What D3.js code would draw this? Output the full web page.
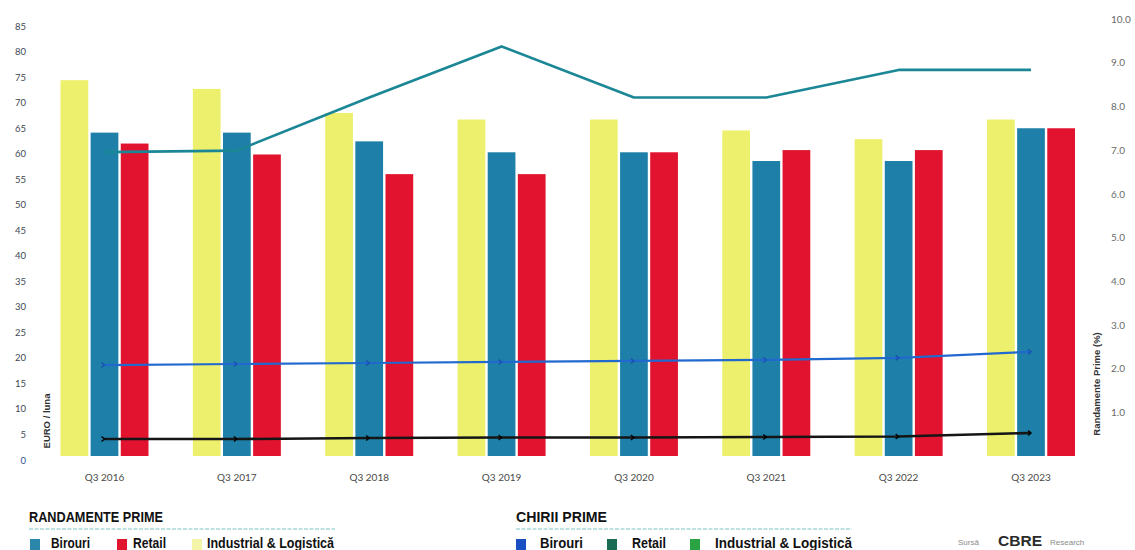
<!DOCTYPE html>
<html>
<head>
<meta charset="utf-8">
<script src="https://cdn.jsdelivr.net/npm/d3@7/dist/d3.min.js"></script>
<style>
  html, body { margin: 0; padding: 0; background: #ffffff; }
  svg { display: block; }
</style>
</head>
<body>
<svg id="chart" width="1135" height="550"></svg>
<script>
// ---------- DATA ----------
const categories = ["Q3 2016", "Q3 2017", "Q3 2018", "Q3 2019", "Q3 2020", "Q3 2021", "Q3 2022", "Q3 2023"];

// Randamente prime (%) – bars, right axis
const yieldSeries = ["Industrial & Logistică", "Birouri", "Retail"];
const yieldIndustrial = [8.6, 8.4, 7.85, 7.7, 7.7, 7.45, 7.25, 7.7];
const yieldOffice     = [7.4, 7.4, 7.2, 6.95, 6.95, 6.75, 6.75, 7.5];
const yieldRetail     = [7.15, 6.9, 6.45, 6.45, 6.95, 7.0, 7.0, 7.5];

// Chirii prime (EURO / luna) – lines, left axis
const rentRetail     = [60.3, 60.6, 71, 81, 71, 71, 76.4, 76.4];
const rentOffice     = [18.6, 18.8, 19, 19.2, 19.4, 19.6, 20, 21.2];
const rentIndustrial = [4.1, 4.1, 4.3, 4.4, 4.4, 4.5, 4.6, 5.3];

const leftTicks  = [0, 5, 10, 15, 20, 25, 30, 35, 40, 45, 50, 55, 60, 65, 70, 75, 80, 85];
const rightTicks = [1, 2, 3, 4, 5, 6, 7, 8, 9, 10];

// ---------- CHART ----------
const svg = d3.select("#chart");
svg.append("rect").attr("width", 1135).attr("height", 550).attr("fill", "#fff");

const xCenter = d3.scalePoint().domain(categories).range([104.5, 1031]);
const xInner = d3.scaleBand().domain(yieldSeries).range([-44, 44]).paddingInner(0.08);
const yLeft = d3.scaleLinear().domain([0, 85]).range([460, 26]);
const yRight = d3.scaleLinear().domain([0, 10]).range([456, 19]);

const barColors = {"Industrial & Logistică": "#edf06c", "Birouri": "#1e80a8", "Retail": "#e1132f"};
const barData = [];
categories.forEach((c, i) => {
  barData.push({cat: c, s: "Industrial & Logistică", v: yieldIndustrial[i]});
  barData.push({cat: c, s: "Birouri", v: yieldOffice[i]});
  barData.push({cat: c, s: "Retail", v: yieldRetail[i]});
});

// Left axis
const gL = svg.append("g").attr("transform", "translate(26,0)")
  .call(d3.axisLeft(yLeft).tickValues(leftTicks).tickSize(0).tickPadding(0));
gL.select(".domain").remove();
gL.selectAll("text").attr("font-family", "Lato, 'Liberation Sans', sans-serif")
  .attr("font-size", 9.5).attr("fill", "#3e4852");
gL.selectAll(".tick").filter(d => d === 0).select("text").attr("fill", "#2f5592");

// Right axis
const gR = svg.append("g").attr("transform", "translate(1111,0)")
  .call(d3.axisRight(yRight).tickValues(rightTicks).tickSize(0).tickPadding(0).tickFormat(d3.format(".1f")));
gR.select(".domain").remove();
gR.selectAll("text").attr("font-family", "Lato, 'Liberation Sans', sans-serif")
  .attr("font-size", 10).attr("fill", "#6a6a6a");

// Bars
svg.append("g").selectAll("rect.bar").data(barData).join("rect")
  .attr("class", "bar")
  .attr("x", d => xCenter(d.cat) + xInner(d.s))
  .attr("width", xInner.bandwidth())
  .attr("y", d => yRight(d.v))
  .attr("height", d => yRight(0) - yRight(d.v))
  .attr("fill", d => barColors[d.s]);

// Lines
const lineGen = d3.line().x((d, i) => xCenter(categories[i])).y(d => yLeft(d));
const lineDefs = [
  {vals: rentRetail, color: "#1b8796", w: 2.6},
  {vals: rentOffice, color: "#2168cf", w: 2.2},
  {vals: rentIndustrial, color: "#151515", w: 2.6}
];
const gLines = svg.append("g");
lineDefs.forEach(l => {
  gLines.append("path").datum(l.vals)
    .attr("d", lineGen).attr("fill", "none")
    .attr("stroke", l.color).attr("stroke-width", l.w)
    .attr("stroke-linejoin", "round");
});
// small markers on lower lines
[rentOffice, rentIndustrial].forEach((vals, k) => {
  gLines.selectAll(null).data(vals).join("path")
    .attr("transform", (d, i) => `translate(${xCenter(categories[i])},${yLeft(d)})`)
    .attr("d", "M-3,-2.5L0,0L-3,2.5")
    .attr("fill", "none")
    .attr("stroke", k === 0 ? "#1a4fb0" : "#000")
    .attr("stroke-width", 1.4);
});

// X labels
svg.append("g").selectAll("text").data(categories).join("text")
  .attr("x", d => xCenter(d)).attr("y", 481)
  .attr("text-anchor", "middle")
  .attr("font-family", "Lato, 'Liberation Sans', sans-serif")
  .attr("font-size", 10).attr("fill", "#4a4a4a")
  .text(d => d);

// Axis titles
svg.append("text").attr("transform", "translate(50,421) rotate(-90)")
  .attr("text-anchor", "middle").attr("font-family", "'Liberation Sans', sans-serif")
  .attr("font-size", 9.5).attr("font-weight", "bold").attr("fill", "#333")
  .text("EURO / luna");
svg.append("text").attr("transform", "translate(1100,384) rotate(-90)")
  .attr("text-anchor", "middle").attr("font-family", "'Liberation Sans', sans-serif")
  .attr("font-size", 9.5).attr("font-weight", "bold").attr("fill", "#333")
  .text("Randamente Prime (%)");

// Legends
const legendFont = "'Liberation Sans', Arial, sans-serif";
function legendBlock(title, tx, ty, lineX2, items) {
  svg.append("text").attr("x", tx).attr("y", ty)
    .attr("font-family", legendFont).attr("font-weight", "bold")
    .attr("font-size", 14).attr("fill", "#111")
    .attr("textLength", title.len).attr("lengthAdjust", "spacingAndGlyphs")
    .text(title.text);
  svg.append("line").attr("x1", tx).attr("x2", lineX2).attr("y1", ty + 7).attr("y2", ty + 7)
    .attr("stroke", "#a8d8d8").attr("stroke-width", 1.5).attr("stroke-dasharray", "4,1.5");
  items.forEach(it => {
    svg.append("rect").attr("x", it.sx).attr("y", 539).attr("width", 10).attr("height", 11)
      .attr("fill", it.color);
    svg.append("text").attr("x", it.tx).attr("y", 548)
      .attr("font-family", legendFont).attr("font-weight", "bold")
      .attr("font-size", 14).attr("fill", "#111")
      .attr("textLength", it.len).attr("lengthAdjust", "spacingAndGlyphs")
      .text(it.label);
  });
}
legendBlock({text: "RANDAMENTE PRIME", len: 134}, 29, 522, 335, [
  {sx: 30, tx: 51, len: 39, color: "#2a87a9", label: "Birouri"},
  {sx: 117, tx: 133, len: 33, color: "#e0162f", label: "Retail"},
  {sx: 192, tx: 207, len: 127, color: "#f3f6a8", label: "Industrial & Logistică"}
]);
legendBlock({text: "CHIRII PRIME", len: 91}, 516, 522, 852, [
  {sx: 516, tx: 540, len: 43, color: "#1a4fc4", label: "Birouri"},
  {sx: 607, tx: 632, len: 34, color: "#196b54", label: "Retail"},
  {sx: 690, tx: 715, len: 137, color: "#2aa443", label: "Industrial & Logistică"}
]);

// Source
svg.append("text").attr("x", 958).attr("y", 545)
  .attr("font-family", legendFont).attr("font-size", 8).attr("fill", "#8a8a8a").text("Sursă");
svg.append("text").attr("x", 998).attr("y", 546)
  .attr("font-family", legendFont).attr("font-size", 14).attr("font-weight", "bold")
  .attr("fill", "#2b2b2b").attr("textLength", 44).attr("lengthAdjust", "spacingAndGlyphs").text("CBRE");
svg.append("text").attr("x", 1050).attr("y", 545)
  .attr("font-family", legendFont).attr("font-size", 8).attr("fill", "#8a8a8a").text("Research");
</script>
</body>
</html>
